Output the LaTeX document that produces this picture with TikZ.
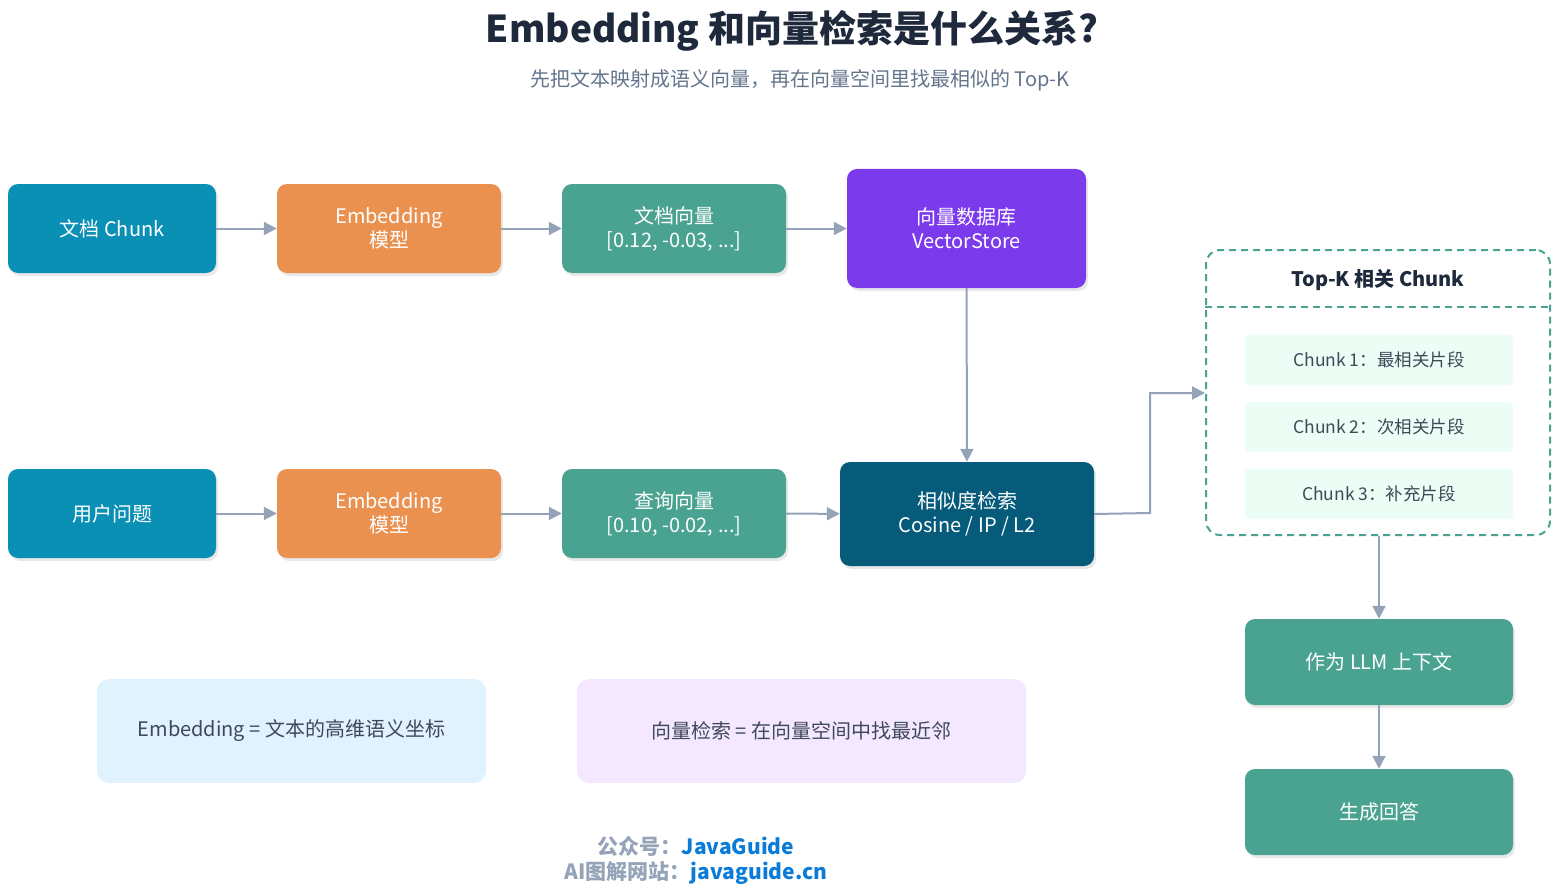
\documentclass[tikz,border=0pt]{standalone}
\usepackage{fontspec}
\setmainfont{Noto Sans CJK SC}
\usetikzlibrary{shadows,arrows.meta}
\definecolor{cblue}{HTML}{0A8FB5}
\definecolor{corange}{HTML}{EA9150}
\definecolor{cgreen}{HTML}{4AA391}
\definecolor{cpurple}{HTML}{7C3AED}
\definecolor{cdark}{HTML}{065A7A}
\definecolor{cgray}{HTML}{94A3B8}
\definecolor{ctitle}{HTML}{1E293B}
\definecolor{csub}{HTML}{64748B}
\definecolor{citem}{HTML}{ECFDF5}
\definecolor{clblue}{HTML}{E0F2FE}
\definecolor{clpurp}{HTML}{F3E8FF}
\definecolor{clink}{HTML}{0B7BD8}
\begin{document}
\begin{tikzpicture}[x=1pt,y=-1pt,
 box/.style={rounded corners=10pt,text=white,font=\fontsize{20}{24}\selectfont,align=center,inner sep=0pt,
   drop shadow={shadow xshift=2pt,shadow yshift=-3pt,opacity=0.18}},
 item/.style={fill=citem,rounded corners=4pt,minimum width=268pt,minimum height=50pt,font=\fontsize{17.5}{20}\selectfont,text=ctitle!85,inner sep=0pt},
 note/.style={rounded corners=12pt,minimum height=104pt,font=\fontsize{20}{23}\selectfont,text=ctitle!85,inner sep=0pt},
 arr/.style={draw=cgray,line width=2pt,-{Triangle[length=13pt,width=13pt]}}]
\useasboundingbox (0,0) rectangle (1553,888);
\node[font=\bfseries\fontsize{37}{40}\selectfont,text=ctitle] (t) at (792,31) {Embedding 和向量检索是什么关系?};
\node[font=\fontsize{20}{22}\selectfont,text=csub] (st) at (800,80) {先把文本映射成语义向量，再在向量空间里找最相似的 Top-K};
\node[box,fill=cblue,minimum width=208pt,minimum height=89pt] (a1) at (112,228.5) {文档 Chunk};
\node[box,fill=corange,minimum width=224pt,minimum height=89pt] (a2) at (389,228.5) {Embedding\\模型};
\node[box,fill=cgreen,minimum width=224pt,minimum height=89pt] (a3) at (674,228.5) {文档向量\\{}[0.12, -0.03, ...]};
\node[box,fill=cpurple,minimum width=239pt,minimum height=119pt] (a4) at (966.5,228.5) {向量数据库\\VectorStore};
\node[box,fill=cblue,minimum width=208pt,minimum height=89pt] (b1) at (112,513.5) {用户问题};
\node[box,fill=corange,minimum width=224pt,minimum height=89pt] (b2) at (389,513.5) {Embedding\\模型};
\node[box,fill=cgreen,minimum width=224pt,minimum height=89pt] (b3) at (674,513.5) {查询向量\\{}[0.10, -0.02, ...]};
\node[box,fill=cdark,minimum width=254pt,minimum height=104pt] (b4) at (967,514) {相似度检索\\Cosine / IP / L2};
\draw[arr] (a1) -- (a2); \draw[arr] (a2) -- (a3); \draw[arr] (a3) -- (a4);
\draw[arr] (b1) -- (b2); \draw[arr] (b2) -- (b3); \draw[arr] (b3) -- (b4);
\draw[arr] (a4) -- (b4);
\node[draw=cgreen,dashed,dash pattern=on 7pt off 5pt,line width=2pt,rounded corners=14pt,minimum width=344pt,minimum height=285pt] (tk) at (1378,392.5) {};
\draw[cgreen,line width=2pt,dash pattern=on 7pt off 5pt] (tk.west|-0,307) -- (tk.east|-0,307);
\node[font=\bfseries\fontsize{20}{22}\selectfont,text=ctitle] (tkh) at (1378,280) {Top-K 相关 Chunk};
\node[item] (c1) at (1379,360) {Chunk 1：最相关片段};
\node[item] (c2) at (1379,427) {Chunk 2：次相关片段};
\node[item] (c3) at (1379,494) {Chunk 3：补充片段};
\coordinate (e1) at (1150,513);
\draw[arr] (b4.east) -- (e1) |- (tk.west|-0,393);
\node[box,fill=cgreen,minimum width=268pt,minimum height=86pt] (d1) at (1379,662) {作为 LLM 上下文};
\node[box,fill=cgreen,minimum width=268pt,minimum height=86pt] (d2) at (1379,812) {生成回答};
\draw[arr] (tk.south-|d1) -- (d1); \draw[arr] (d1) -- (d2);
\node[note,fill=clblue,minimum width=389pt] (n1) at (291.5,731) {Embedding = 文本的高维语义坐标};
\node[note,fill=clpurp,minimum width=449pt] (n2) at (801.5,731) {向量检索 = 在向量空间中找最近邻};
\node[font=\bfseries\fontsize{21}{24}\selectfont,text=cgray] (f1) at (696,846) {公众号：\textcolor{clink}{JavaGuide}};
\node[font=\bfseries\fontsize{21}{24}\selectfont,text=cgray] (f2) at (696,873) {AI图解网站：\textcolor{clink}{javaguide.cn}};
\end{tikzpicture}
\end{document}
